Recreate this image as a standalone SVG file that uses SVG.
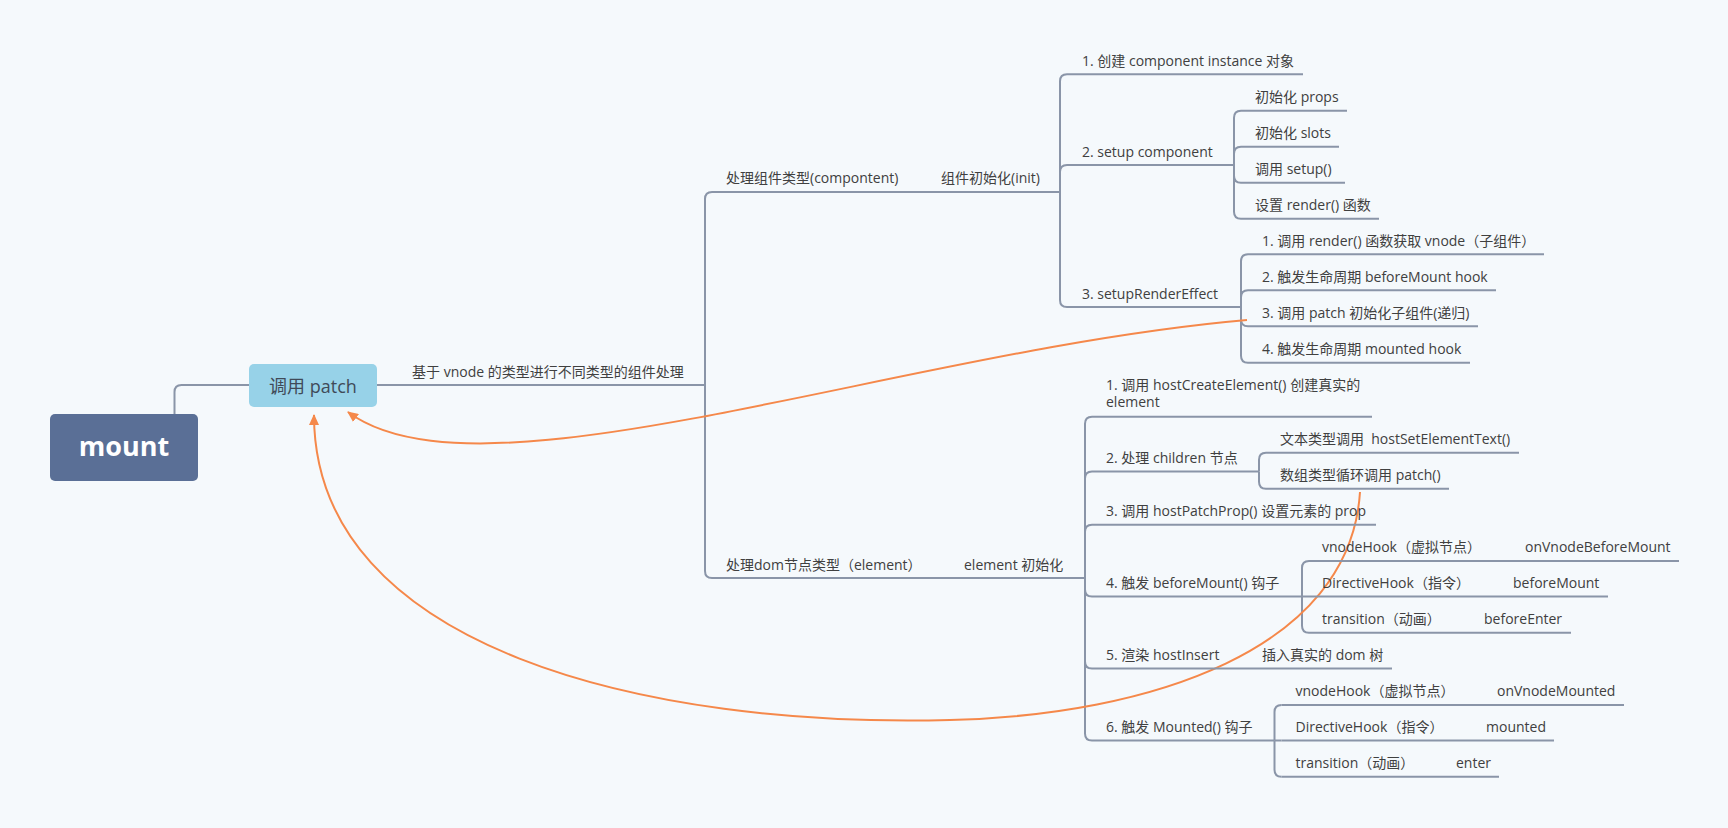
<svg xmlns="http://www.w3.org/2000/svg" width="1728" height="828" viewBox="0 0 1728 828">
<style>
.t{font-family:"Open Sans","Noto Sans CJK SC",sans-serif;font-size:14px;fill:#404040}
.ln{fill:none;stroke:#8a95a8;stroke-width:2;stroke-linecap:butt}
.cv{fill:none;stroke:#f5884a;stroke-width:2}
</style>
<defs>
<marker id="ah" markerUnits="userSpaceOnUse" markerWidth="11" markerHeight="10" refX="10" refY="5" orient="auto" viewBox="0 0 11 10">
<path d="M0,0 L11,5 L0,10 z" fill="#f5884a"/>
</marker>
</defs>
<rect width="1728" height="828" fill="#f5f9fc"/>

<g id="connectors">
<path class="ln" d="M174.5 414 V392 Q174.5 385 181.5 385 H249"/>
<path class="ln" d="M377 385 H705"/>
<path class="ln" d="M705 385 V199 Q705 192 712 192"/>
<path class="ln" d="M705 385 V571 Q705 578 712 578"/>
<path class="ln" d="M1060 192 V81.3 Q1060 74.3 1067 74.3"/>
<path class="ln" d="M1060 192 V172 Q1060 165 1067 165"/>
<path class="ln" d="M1060 192 V300 Q1060 307 1067 307"/>
<path class="ln" d="M1234 165 V117.7 Q1234 110.7 1241 110.7"/>
<path class="ln" d="M1234 165 V153.7 Q1234 146.7 1241 146.7"/>
<path class="ln" d="M1234 165 V175.7 Q1234 182.7 1241 182.7"/>
<path class="ln" d="M1234 165 V211.7 Q1234 218.7 1241 218.7"/>
<path class="ln" d="M1241 307 V261.3 Q1241 254.3 1248 254.3"/>
<path class="ln" d="M1241 307 V297.3 Q1241 290.3 1248 290.3"/>
<path class="ln" d="M1241 307 V319.3 Q1241 326.3 1248 326.3"/>
<path class="ln" d="M1241 307 V355.7 Q1241 362.7 1248 362.7"/>
<path class="ln" d="M1085 578 V423.7 Q1085 416.7 1092 416.7"/>
<path class="ln" d="M1085 578 V478.5 Q1085 471.5 1092 471.5"/>
<path class="ln" d="M1085 578 V531.7 Q1085 524.7 1092 524.7"/>
<path class="ln" d="M1085 578 V589.5 Q1085 596.5 1092 596.5"/>
<path class="ln" d="M1085 578 V661.5 Q1085 668.5 1092 668.5"/>
<path class="ln" d="M1085 578 V733.5 Q1085 740.5 1092 740.5"/>
<path class="ln" d="M1259 471.5 V459.7 Q1259 452.7 1266 452.7"/>
<path class="ln" d="M1259 471.5 V481.7 Q1259 488.7 1266 488.7"/>
<path class="ln" d="M1302 596.5 V568 Q1302 561 1309 561"/>
<path class="ln" d="M1302 596.5 H1309"/>
<path class="ln" d="M1302 596.5 V625.7 Q1302 632.7 1309 632.7"/>
<path class="ln" d="M1274.5 740.5 V712 Q1274.5 705 1281.5 705"/>
<path class="ln" d="M1274.5 740.5 H1281.5"/>
<path class="ln" d="M1274.5 740.5 V769.7 Q1274.5 776.7 1281.5 776.7"/>
<path class="cv" marker-end="url(#ah)" d="M1247 320 C900 350 480 510 348 412"/>
<path class="cv" marker-end="url(#ah)" d="M1360 492 C1350 650 1150 715 950 720 C650 728 314 650 314 415"/>
</g>

<g id="mount">
<rect x="50" y="414" width="148" height="67" rx="5" fill="#5a6f96"/>
<text x="124" y="456" text-anchor="middle" style="font-family:'Open Sans','Noto Sans CJK SC',sans-serif;font-size:27px;font-weight:bold;fill:#ffffff">mount</text>
</g>
<g id="patch">
<rect x="249" y="364" width="128" height="43" rx="5" fill="#97d2e8"/>
<text x="313" y="393" text-anchor="middle" style="font-family:'Open Sans','Noto Sans CJK SC',sans-serif;font-size:18px;fill:#404a58">调用 patch</text>
</g>
<g id="vnode-type"><text class="t" x="412" y="377">基于 vnode 的类型进行不同类型的组件处理</text></g>

<g id="component"><path class="ln" d="M712 192 H1060"/><text class="t" x="726" y="183">处理组件类型(compontent)</text></g>
<g id="component-init"><text class="t" x="941" y="183">组件初始化(init)</text></g>
<g id="c1"><path class="ln" d="M1067 74.3 H1303"/><text class="t" x="1082" y="66">1. 创建 component instance 对象</text></g>
<g id="c2"><path class="ln" d="M1067 165 H1234"/><text class="t" x="1082" y="157">2. setup component</text></g>
<g id="c2-1"><path class="ln" d="M1241 110.7 H1347"/><text class="t" x="1255" y="102">初始化 props</text></g>
<g id="c2-2"><path class="ln" d="M1241 146.7 H1339"/><text class="t" x="1255" y="138">初始化 slots</text></g>
<g id="c2-3"><path class="ln" d="M1241 182.7 H1345"/><text class="t" x="1255" y="174">调用 setup()</text></g>
<g id="c2-4"><path class="ln" d="M1241 218.7 H1379"/><text class="t" x="1255" y="210">设置 render() 函数</text></g>
<g id="c3"><path class="ln" d="M1067 307 H1241"/><text class="t" x="1082" y="299">3. setupRenderEffect</text></g>
<g id="c3-1"><path class="ln" d="M1248 254.3 H1544"/><text class="t" x="1262" y="245.5">1. 调用 render() 函数获取 vnode（子组件）</text></g>
<g id="c3-2"><path class="ln" d="M1248 290.3 H1496"/><text class="t" x="1262" y="281.5">2. 触发生命周期 beforeMount hook</text></g>
<g id="c3-3"><path class="ln" d="M1248 326.3 H1478"/><text class="t" x="1262" y="317.5">3. 调用 patch 初始化子组件(递归)</text></g>
<g id="c3-4"><path class="ln" d="M1248 362.7 H1470"/><text class="t" x="1262" y="354">4. 触发生命周期 mounted hook</text></g>

<g id="element"><path class="ln" d="M712 578 H1085"/><text class="t" x="726" y="570">处理dom节点类型（element）</text></g>
<g id="element-init"><text class="t" x="964" y="570">element 初始化</text></g>
<g id="e1"><path class="ln" d="M1092 416.7 H1372"/><text class="t" x="1106" y="389.5">1. 调用 hostCreateElement() 创建真实的</text><text class="t" x="1106" y="407">element</text></g>
<g id="e2"><path class="ln" d="M1092 471.5 H1259"/><text class="t" x="1106" y="462.5">2. 处理 children 节点</text></g>
<g id="e2-1"><path class="ln" d="M1266 452.7 H1519"/><text class="t" x="1280" y="444" xml:space="preserve">文本类型调用&#160; hostSetElementText()</text></g>
<g id="e2-2"><path class="ln" d="M1266 488.7 H1449"/><text class="t" x="1280" y="480">数组类型循环调用 patch()</text></g>
<g id="e3"><path class="ln" d="M1092 524.7 H1376"/><text class="t" x="1106" y="516">3. 调用 hostPatchProp() 设置元素的 prop</text></g>
<g id="e4"><path class="ln" d="M1092 596.5 H1302"/><text class="t" x="1106" y="587.7">4. 触发 beforeMount() 钩子</text></g>
<g id="e4-1"><path class="ln" d="M1309 561 H1679"/><text class="t" x="1322" y="552">vnodeHook（虚拟节点）</text><text class="t" x="1525" y="552">onVnodeBeforeMount</text></g>
<g id="e4-2"><path class="ln" d="M1309 596.5 H1608"/><text class="t" x="1322" y="588">DirectiveHook（指令）</text><text class="t" x="1513" y="588">beforeMount</text></g>
<g id="e4-3"><path class="ln" d="M1309 632.7 H1571"/><text class="t" x="1322" y="624">transition（动画）</text><text class="t" x="1484" y="624">beforeEnter</text></g>
<g id="e5"><path class="ln" d="M1092 668.5 H1392"/><text class="t" x="1106" y="659.5">5. 渲染 hostInsert</text><text class="t" x="1262" y="659.5">插入真实的 dom 树</text></g>
<g id="e6"><path class="ln" d="M1092 740.5 H1274.5"/><text class="t" x="1106" y="731.7">6. 触发 Mounted() 钩子</text></g>
<g id="e6-1"><path class="ln" d="M1281.5 705 H1624"/><text class="t" x="1295.5" y="696">vnodeHook（虚拟节点）</text><text class="t" x="1497" y="696">onVnodeMounted</text></g>
<g id="e6-2"><path class="ln" d="M1281.5 740.5 H1554"/><text class="t" x="1295.5" y="732">DirectiveHook（指令）</text><text class="t" x="1486" y="732">mounted</text></g>
<g id="e6-3"><path class="ln" d="M1281.5 776.7 H1499"/><text class="t" x="1295.5" y="768">transition（动画）</text><text class="t" x="1456" y="768">enter</text></g>
</svg>
